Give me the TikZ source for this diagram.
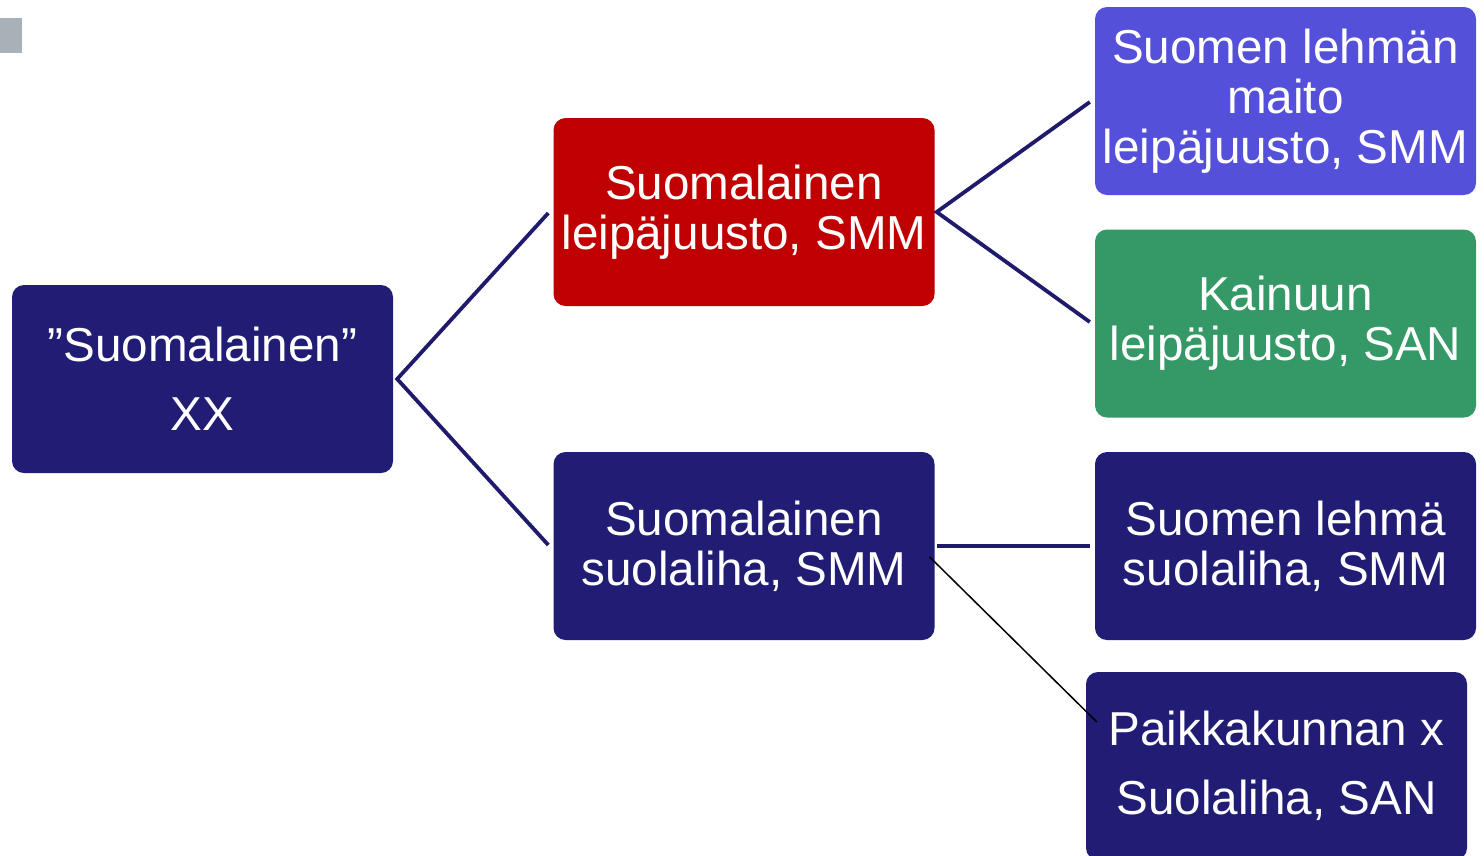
\documentclass[tikz,border=0pt]{standalone}
\usepackage{fontspec}
\setmainfont{Liberation Sans}
\definecolor{navy}{HTML}{211D74}
\definecolor{linenavy}{HTML}{1F1A6C}
\definecolor{boxred}{HTML}{C00000}
\definecolor{boxpurple}{HTML}{5550D9}
\definecolor{boxgreen}{HTML}{349966}
\definecolor{markgray}{HTML}{A9B1B8}
\begin{document}
\begin{tikzpicture}[x=1pt,y=-1pt,
  box/.style={rounded corners=12pt, minimum width=381pt, minimum height=188pt,
    text=white, align=center, inner sep=0pt,
    font=\fontsize{47.6}{50}\selectfont},
  widebox/.style={box, font=\fontsize{47.6}{69}\selectfont},
  link/.style={draw=linenavy, line width=3.8pt},
  thinlink/.style={draw=black, line width=1.5pt}]
\useasboundingbox (0,0) rectangle (1484,855);
\clip (0,0) rectangle (1484,855);
\fill[markgray] (0,18) rectangle (22,53);
\node[widebox, fill=navy] (root) at (202.5,379) {”Suomalainen”\\XX};
\node[box, fill=boxred] (leipa) at (744,212) {Suomalainen\\leipäjuusto, SMM};
\node[box, fill=navy] (suola) at (744,546) {Suomalainen\\suolaliha, SMM};
\node[box, fill=boxpurple] (maito) at (1285.5,101) {Suomen lehmän\\maito\\leipäjuusto, SMM};
\node[box, fill=boxgreen] (kainuu) at (1285.5,323.5) {Kainuun\\leipäjuusto, SAN};
\node[box, fill=navy] (lehma) at (1285.5,546) {Suomen lehmä\\suolaliha, SMM};
\node[widebox, fill=navy] (paikka) at (1276.5,766) {Paikkakunnan x\\Suolaliha, SAN};
\coordinate (rootout) at ([xshift=4pt]root.east);
\coordinate (leipain) at ([xshift=-5pt,yshift=-1pt]leipa.west);
\coordinate (suolain) at ([xshift=-5pt,yshift=1pt]suola.west);
\coordinate (leipaout) at ([xshift=2pt]leipa.east);
\coordinate (maitoin) at ([xshift=-5pt,yshift=-1pt]maito.west);
\coordinate (kainuuin) at ([xshift=-5pt,yshift=1.5pt]kainuu.west);
\coordinate (suolaout) at ([xshift=2pt]suola.east);
\coordinate (lehmain) at ([xshift=-5pt]lehma.west);
\coordinate (suolathin) at ([xshift=-5pt,yshift=-11pt]suola.east);
\coordinate (paikkain) at ([xshift=11pt,yshift=44pt]paikka.west);
\draw[link] (leipain) -- (rootout) -- (suolain);
\draw[link] (maitoin) -- (leipaout) -- (kainuuin);
\draw[link] (suolaout) -- (lehmain);
\draw[thinlink] (suolathin) -- (paikkain);
\end{tikzpicture}
\end{document}
